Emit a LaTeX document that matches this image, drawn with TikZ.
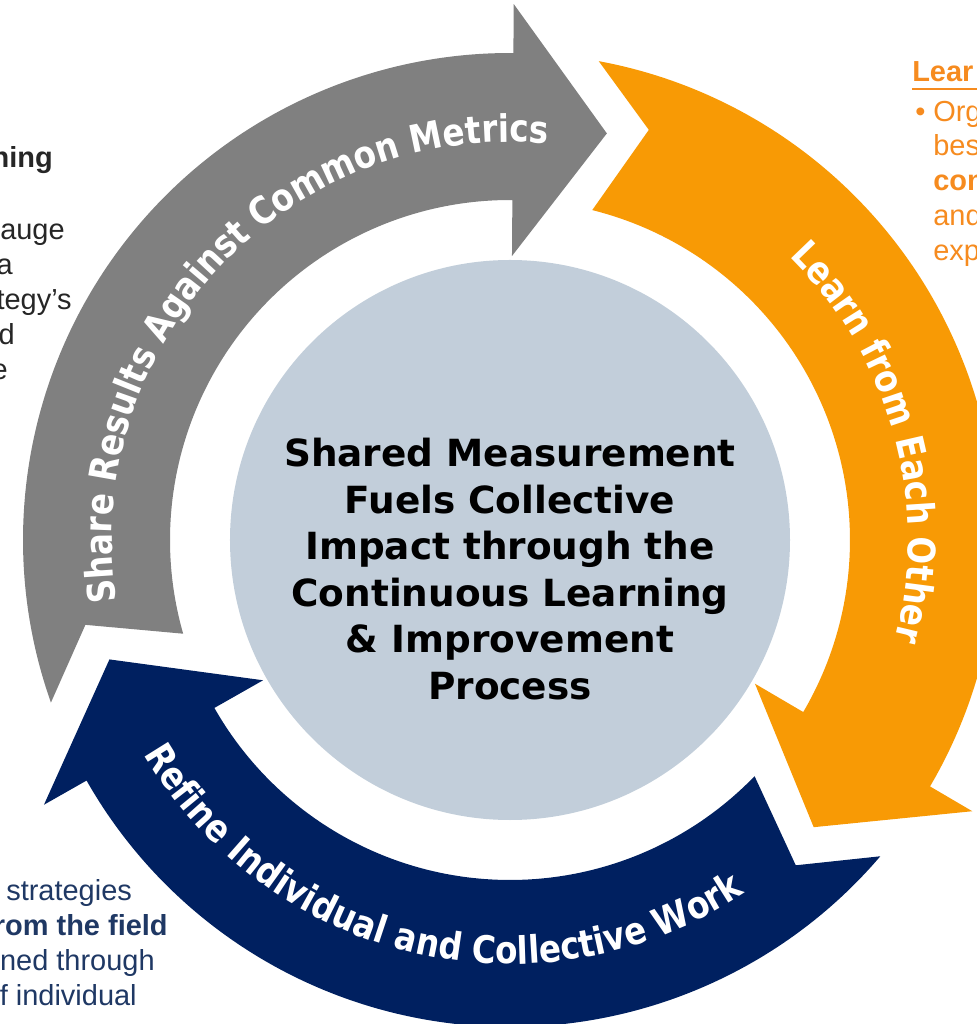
\documentclass[tikz,border=0pt]{standalone}
\usepackage{fontspec}
\setsansfont{DejaVu Sans}
\newfontfamily\sidefont{Liberation Sans}
\newfontfamily\arcface{DejaVu Sans}[FakeStretch=0.86]
\usepackage{tikz}
\usetikzlibrary{calc,decorations.text}

\definecolor{ringgray}{HTML}{808080}
\definecolor{ringorange}{HTML}{F89A05}
\definecolor{ringnavy}{HTML}{002060}
\definecolor{hubblue}{HTML}{C2CEDA}
\definecolor{textdark}{HTML}{262626}
\definecolor{textorange}{HTML}{F68B1F}
\definecolor{textnavy}{HTML}{1F3864}

\newcommand{\arcfont}{\arcface\bfseries\fontsize{27}{32}\selectfont}

\tikzset{
  hubtext/.style={font=\sffamily\bfseries\fontsize{26.6}{33.1}\selectfont, align=center, inner sep=0},
  arclabel/.style={decorate, decoration={text along path, text align=center, text color=white, text={|\arcfont|#1}}},
  sidetext/.style={font=\sidefont\fontsize{20.6}{24.9}\selectfont, inner sep=0},
  sidebold/.style={font=\sidefont\bfseries\fontsize{20.6}{24.9}\selectfont, inner sep=0}
}

\begin{document}
\begin{tikzpicture}[x=0.025cm,y=0.025cm]
    \pgfmathsetmacro{\rout}{487}
    \pgfmathsetmacro{\rin}{340}
    \pgfmathsetmacro{\base}{89.6}
    \pgfmathsetmacro{\barbout}{536}
    \pgfmathsetmacro{\barbin}{284}
    \pgfmathsetmacro{\tipang}{76.6}
    \pgfmathsetmacro{\tipr}{418}
    \pgfmathsetmacro{\tailout}{199.5}
    \pgfmathsetmacro{\tailin}{196}
    \pgfmathsetmacro{\notchang}{191.3}
    \pgfmathsetmacro{\notchr}{433}
    \useasboundingbox (-510,-484) rectangle (467,540);
    \clip (-510,-484) rectangle (467,540);
    % hub
    \fill[hubblue] (0,0) circle (280);
    % three ring arrows, one every 120 degrees
    \foreach \rot/\col in {0/ringgray,-120/ringorange,120/ringnavy}{
      \fill[\col,rotate=\rot] (\tailout:\rout) arc[start angle=\tailout, end angle=\base, radius=\rout]
        -- (\base:\barbout) -- (\tipang:\tipr) -- (\base:\barbin) -- (\base:\rin)
        arc[start angle=\base, end angle=\tailin, radius=\rin] -- (\notchang:\notchr) -- cycle;
    }
    \node[hubtext] (hub) at (0,-29) {Shared Measurement\\Fuels Collective\\Impact through the\\Continuous Learning\\\& Improvement\\Process};
    % labels along the arrows
    \path[arclabel={Share Results Against Common Metrics}] (200:398) arc[start angle=200, end angle=73.4, radius=398];
    \path[arclabel={Learn from Each Other}] (80:398) arc[start angle=80, end angle=-49.2, radius=398];
    \path[arclabel={Refine Individual and Collective Work}] (190:424) arc[start angle=190, end angle=324, radius=424];
    % cut-off side texts
    \node[sidebold, textdark, anchor=base east] (lefthead) at (-457,372) {ning};
    \foreach \frag/\xe/\yb [count=\i] in {auge/-445/300, a/-497/265, tegy’s/-438/230, d/-495/195, e/-502/160}
      \node[sidetext, textdark, anchor=base east] (left\i) at (\xe,\yb) {\frag};
    \node[sidebold, textorange, anchor=base west] (righthead) at (402,458) {Lear};
    \draw[textorange, line width=1.3pt] ($(righthead.base west)+(0,-7)$) -- ++(80,0);
    \node[sidetext, textorange, anchor=base west] (bullet) at (405,418) {•};
    \node[sidetext, textorange, anchor=base west] (right1) at (423,418) {Org};
    \node[sidetext, textorange, anchor=base west] (right2) at (423,384) {bes};
    \node[sidebold, textorange, anchor=base west] (right3) at (423,349) {con};
    \node[sidetext, textorange, anchor=base west] (right4) at (423,314) {and};
    \node[sidetext, textorange, anchor=base west] (right5) at (423,279) {exp};
    \node[sidetext, textnavy, anchor=base west] (low1) at (-504,-360) {strategies};
    \node[sidebold, textnavy, anchor=base east] (low2) at (-342,-395) {rom the field};
    \node[sidetext, textnavy, anchor=base east] (low3) at (-355,-430) {ned through};
    \node[sidetext, textnavy, anchor=base east] (low4) at (-373,-465) {f individual};
\end{tikzpicture}
\end{document}
